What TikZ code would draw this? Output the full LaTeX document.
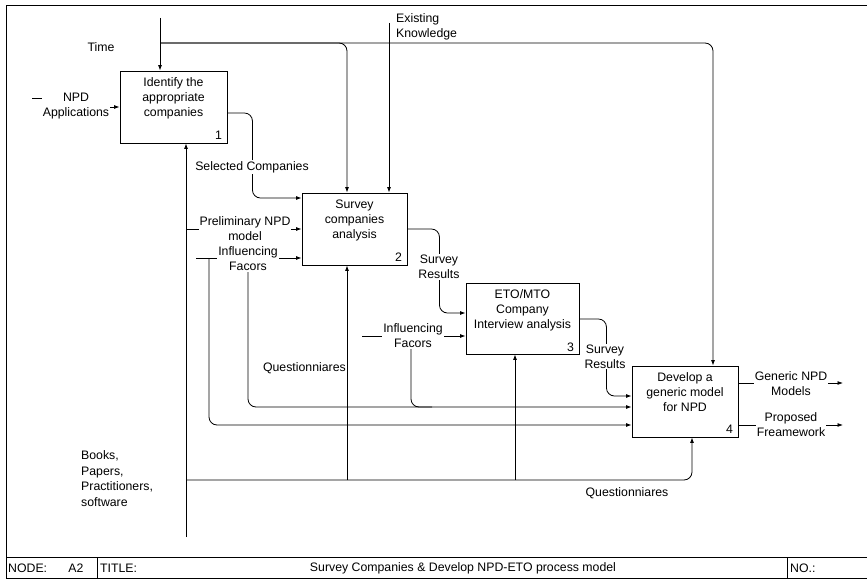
\documentclass[tikz,border=0pt]{standalone}
\usepackage{fontspec}
\setmainfont{Liberation Sans}
\usetikzlibrary{arrows.meta}

\begin{document}
\begin{tikzpicture}[x=1pt,y=-1pt,
  font=\fontsize{12.3}{15}\selectfont,
  procbox/.style={draw, line width=0.9pt, inner sep=0pt},
  boxtxt/.style={align=center, inner sep=0pt},
  boxnum/.style={inner sep=0pt},
  link/.style={line width=0.8pt},
  arr/.style={link, -{Latex[length=5.5pt,width=4pt]}},
  curved/.style={rounded corners=8pt},
  lbl/.style={align=center, inner sep=1pt, fill=white},
  plainlbl/.style={inner sep=0pt},
  frameline/.style={line width=0.8pt},
]
\useasboundingbox (0,0) rectangle (867,580);

% sheet frame and title bar
\draw[frameline] (867,5) -- (6,5) -- (6,578) -- (867,578);
\draw[frameline] (6,557) -- (867,557);
\draw[frameline] (97,557) -- (97,578);
\draw[frameline] (787,557) -- (787,578);
\node[plainlbl, anchor=west] (tnode) at (8,568) {NODE:};
\node[plainlbl] (tnum) at (76,568) {A2};
\node[plainlbl, anchor=west] (ttitle) at (100,568) {TITLE:};
\node[plainlbl] (tname) at (463,568) {Survey Companies \& Develop NPD-ETO process model};
\node[plainlbl, anchor=west] (tno) at (790,568) {NO.:};

% activity boxes
\node[procbox, minimum width=107pt, minimum height=72pt] (b1) at (173.5,107) {};
\node[procbox, minimum width=105pt, minimum height=72pt] (b2) at (354.5,229) {};
\node[procbox, minimum width=113pt, minimum height=71pt] (b3) at (522.5,318.5) {};
\node[procbox, minimum width=106pt, minimum height=71pt] (b4) at (685,401.5) {};

\node[boxtxt] (b1t) at ([yshift=-27.5pt]b1.north) {Identify the\\appropriate\\companies};
\node[boxtxt] (b2t) at ([yshift=-27.5pt]b2.north) {Survey\\companies\\analysis};
\node[boxtxt] (b3t) at ([yshift=-27.5pt]b3.north) {ETO/MTO\\Company\\Interview analysis};
\node[boxtxt] (b4t) at ([yshift=-26.5pt]b4.north) {Develop a\\generic model\\for NPD};

\node[boxnum] (n1) at ([xshift=-9pt,yshift=8pt]b1.south east) {1};
\node[boxnum] (n2) at ([xshift=-9pt,yshift=8pt]b2.south east) {2};
\node[boxnum] (n3) at ([xshift=-9pt,yshift=7pt]b3.south east) {3};
\node[boxnum] (n4) at ([xshift=-9pt,yshift=8pt]b4.south east) {4};

% free ends and branch points
\coordinate (timesrc) at (160,18);
\coordinate (timebr) at (160,43);
\coordinate (eksrc) at (389,23);
\coordinate (npdsrc) at (32,98);
\coordinate (npdbend) at (70,98);
\coordinate (npdbend2) at (70,107);
\coordinate (pnsrc) at (187,229);
\coordinate (if2src) at (196,258);
\coordinate (if2brA) at (209,258);
\coordinate (if2brB) at (248,258);
\coordinate (if3src) at (362,336);
\coordinate (if3br) at (411,336);
\coordinate (if3join) at (432,407);
\coordinate (mechsrc) at (186,537);
\coordinate (mechbr) at (186,480);
\coordinate (q2br) at (347,480);
\coordinate (q3br) at (515,480);
\coordinate (gnout) at (843,383);
\coordinate (pfout) at (843,425);

% controls
\draw[arr] (timesrc) -- (timesrc |- b1.north);
\draw[arr, curved] (timebr) -| ([xshift=-7.5pt]b2.north);
\draw[arr, curved] (timebr) -| ([xshift=28pt]b4.north);
\draw[arr] (eksrc) -- (eksrc |- b2.north);

% inputs
\draw[arr] (npdsrc) -- (npdbend) -- (npdbend2) -- (npdbend2 -| b1.west);
\draw[arr, curved] ([yshift=-6pt]b1.east) -- ++(25,0) |- ([yshift=31pt]b2.west);
\draw[arr] (pnsrc) -- (pnsrc -| b2.west);
\draw[arr] (if2src) -- (if2src -| b2.west);
\draw[arr, curved] (if2brA) |- ([yshift=-23.5pt]b4.west);
\draw[arr, curved] (if2brB) |- ([yshift=-5.5pt]b4.west);
\draw[arr] (if3src) -- (if3src -| b3.west);
\draw[link, curved] (if3br) |- (if3join);
\draw[arr, curved] (b2.east) -- ++(32,0) |- ([yshift=5.5pt]b3.west);
\draw[arr, curved] ([yshift=-0.5pt]b3.east) -- ++(27,0) |- ([yshift=5.5pt]b4.west);

% outputs
\draw[arr] ([yshift=18.5pt]b4.east) -- (gnout);
\draw[arr] ([yshift=-23.5pt]b4.east) -- (pfout);

% mechanisms
\draw[arr] (mechsrc) -- (mechsrc |- b1.south);
\draw[arr, curved] (mechbr) -| ([xshift=7pt]b4.south);
\draw[arr] (q2br) -- (q2br |- b2.south);
\draw[arr] (q3br) -- (q3br |- b3.south);

% arrow labels
\node[plainlbl] (timelbl) at (101,47) {Time};
\node[plainlbl, anchor=west, align=left] (eklbl) at (396,27) {Existing\\Knowledge};
\node[lbl] (npdlbl) at (76,106.5) {NPD\\Applications};
\node[lbl] (sclbl) at (252,167) {Selected Companies};
\node[lbl] (pnlbl) at (245,228.5) {Preliminary NPD\\model};
\node[lbl] (if2lbl) at (248,258.5) {Influencing\\Facors};
\node[plainlbl, anchor=east] (q1lbl) at (346,368) {Questionniares};
\node[lbl] (sr1lbl) at (439,267) {Survey\\Results};
\node[lbl] (if3lbl) at (413,336) {Influencing\\Facors};
\node[lbl] (sr2lbl) at (605,356.5) {Survey\\Results};
\node[lbl] (gnlbl) at (791,383.5) {Generic NPD\\Models};
\node[lbl] (pflbl) at (791,424.5) {Proposed\\Freamework};
\node[plainlbl] (q2lbl) at (627,493) {Questionniares};
\node[plainlbl, anchor=west, align=left, font=\fontsize{12.3}{15.7}\selectfont] (bookslbl) at (81,478.5) {Books,\\Papers,\\Practitioners,\\software};

\end{tikzpicture}
\end{document}
